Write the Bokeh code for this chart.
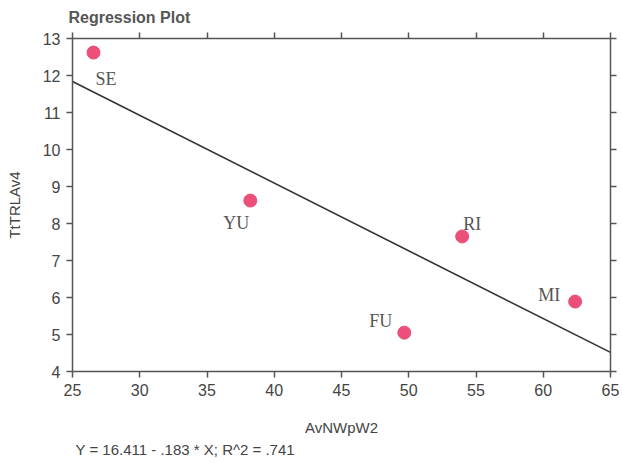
from bokeh.plotting import figure
from bokeh.models import ColumnDataSource, LinearAxis, Title, Range1d, FixedTicker
from bokeh.core.properties import value
from bokeh.embed import file_html
from bokeh.resources import INLINE

# Observations
sites = ["SE", "YU", "RI", "FU", "MI"]
av_nwpw2 = [26.56, 38.22, 53.97, 49.67, 62.37]
tt_trlav4 = [12.62, 8.62, 7.65, 5.05, 5.89]

# Fitted regression
intercept = 16.411
slope = -0.183
r_squared = 0.741

x_ticks = [25, 30, 35, 40, 45, 50, 55, 60, 65]
y_ticks = [4, 5, 6, 7, 8, 9, 10, 11, 12, 13]

# label placement around each point (pixels, +y is downward)
label_dx = [2, -1, 1, -12, -15]
label_dy = [26, 22, -12, -12, -7]
label_align = ["left", "right", "left", "right", "right"]

AXIS_COLOR = "#555555"
TEXT_COLOR = "#444444"
SANS = "Liberation Sans"

p = figure(width=622, height=463, output_backend="svg", toolbar_location=None,
           x_range=Range1d(25, 65), y_range=Range1d(4, 13),
           min_border_left=72, min_border_right=12,
           min_border_top=38, min_border_bottom=92)
p.xgrid.visible = False
p.ygrid.visible = False
p.outline_line_color = None
p.background_fill_color = "white"
p.border_fill_color = "white"

p.title.text = "Regression Plot"
p.title.align = "left"
p.title.vertical_align = "top"
p.title.offset = -4
p.title.text_font = SANS
p.title.text_font_style = "bold"
p.title.text_font_size = "16px"
p.title.text_color = "#555555"
p.title.standoff = 10

eq = f"Y = {intercept:.3f} - {abs(slope):.3f} * X; R^2 = {r_squared:.3f}".replace("0.", ".")
p.add_layout(Title(text=eq, align="left", offset=3, text_font=SANS,
                   text_font_size="15px", text_font_style="normal",
                   text_color=TEXT_COLOR, standoff=0), "below")

xt = FixedTicker(ticks=x_ticks, num_minor_ticks=2)
yt = FixedTicker(ticks=y_ticks, num_minor_ticks=2)

# tick-only axes on the top and right edges
p.add_layout(LinearAxis(ticker=xt, major_label_overrides={t: "" for t in x_ticks}), "above")
p.add_layout(LinearAxis(ticker=yt, major_label_overrides={t: "" for t in y_ticks}), "right")

for ax in p.axis:
    ax.axis_line_color = AXIS_COLOR
    ax.axis_line_width = 1.5
    ax.major_tick_line_color = AXIS_COLOR
    ax.minor_tick_line_color = AXIS_COLOR
    ax.major_tick_line_width = 1.5
    ax.minor_tick_line_width = 1.5
    ax.major_tick_in = 0
    ax.minor_tick_in = 0
    ax.major_tick_out = 6
    ax.minor_tick_out = 3
    ax.major_label_text_font = SANS
    ax.major_label_text_color = TEXT_COLOR
    ax.axis_label_text_font = SANS
    ax.axis_label_text_color = TEXT_COLOR
    ax.axis_label_text_font_style = "normal"

p.above[0].major_label_standoff = 0
p.right[0].major_label_standoff = 0
p.below[0].ticker = xt
p.left[0].ticker = yt
p.below[0].major_label_text_font_size = "16px"
p.left[0].major_label_text_font_size = "16px"
p.below[0].axis_label = "AvNWpW2"
p.left[0].axis_label = "TtTRLAv4"
p.below[0].axis_label_text_font_size = "15px"
p.left[0].axis_label_text_font_size = "15px"
p.below[0].major_label_standoff = 6
p.left[0].major_label_standoff = 6
p.below[0].axis_label_standoff = 20
p.left[0].axis_label_standoff = 17

# regression line across the x range
x_line = [p.x_range.start, p.x_range.end]
y_line = [intercept + slope * v for v in x_line]
p.line(x_line, y_line, line_color="#333333", line_width=1.6)

src = ColumnDataSource(dict(x=av_nwpw2, y=tt_trlav4, name=sites,
                            dx=label_dx, dy=label_dy, align=label_align))
p.scatter("x", "y", source=src, size=13, fill_color="#EC4F7A",
          line_color="#EC4F7A")
p.text("x", "y", text="name", source=src, x_offset="dx", y_offset="dy",
       text_align="align", text_baseline="middle",
       text_font=value("Liberation Serif"), text_font_size="18px",
       text_color="#555555")

open("out.html", "w").write(file_html(p, INLINE))
